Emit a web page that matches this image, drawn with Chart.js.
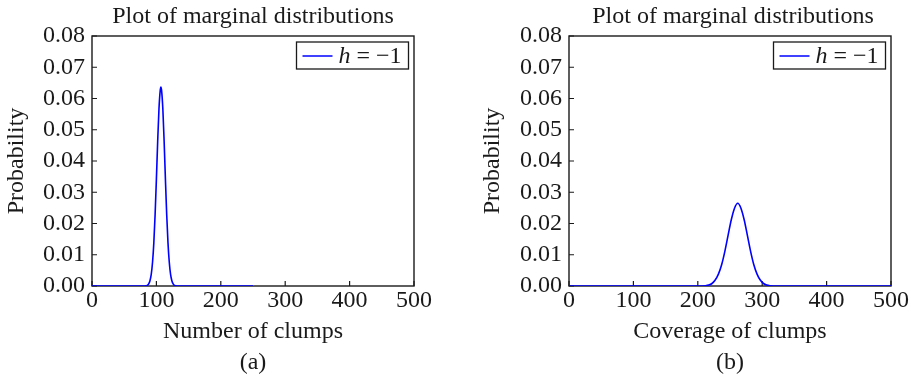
<!DOCTYPE html>
<html>
<head>
<meta charset="utf-8">
<script src="https://cdn.jsdelivr.net/npm/chart.js@4.4.0/dist/chart.umd.min.js"></script>
<style>
  html, body { margin:0; padding:0; background:#fff; }
  #wrap { position:relative; width:912px; height:377px; }
  canvas { position:absolute; top:0; }
  #chartA { left:0; }
  #chartB { left:456px; }
</style>
</head>
<body>
<div id="wrap">
  <canvas id="chartA" width="456" height="377"></canvas>
  <canvas id="chartB" width="456" height="377"></canvas>
</div>
<script>
// === MARGINAL DISTRIBUTIONS (h = -1) === //

// ---- (a) number of clumps ---- //
const clumpX = [0, 82, 86, 88, 90, 92, 94, 96, 98, 100, 102, 104, 106, 107, 108, 110, 112, 114, 116, 118, 120, 122, 124, 126, 128, 132, 250];
const clumpP = [0, 0, 0.0002, 0.0007, 0.0017, 0.0037, 0.0076, 0.0138, 0.0229, 0.0342, 0.0463, 0.0567, 0.0627, 0.0637, 0.0627, 0.0567, 0.0463, 0.0342, 0.0229, 0.0138, 0.0076, 0.0037, 0.0017, 0.0007, 0.0002, 0, 0];

// ---- (b) coverage of clumps ---- //
const coverX = [0, 200, 212, 217, 222, 227, 232, 237, 242, 247, 252, 257, 262, 267, 272, 277, 282, 287, 292, 297, 302, 307, 312, 325, 500];
const coverP = [0, 0, 0.0001, 0.0003, 0.0008, 0.0019, 0.0038, 0.0068, 0.0111, 0.0162, 0.0212, 0.0249, 0.0265, 0.0249, 0.0212, 0.0162, 0.0111, 0.0068, 0.0038, 0.0019, 0.0008, 0.0003, 0.0001, 0, 0];

const panelTitle = "Plot of marginal distributions";
const seriesLabel = "h = \u22121";
const yTitle = "Probability";

const FONT = "'Liberation Serif', 'Times New Roman', serif";
const INK = "#1a1a1a";
const BLUE = "#0000ff";

// ---- frame, inward ticks, title, caption, legend ---- //
const paperPlugin = {
  id: "paper",
  beforeDatasetsDraw(chart) {
    const { ctx, chartArea: a, scales } = chart;
    ctx.save();
    ctx.strokeStyle = INK;
    ctx.lineWidth = 1.4;
    ctx.strokeRect(a.left, a.top, a.right - a.left, a.bottom - a.top);
    ctx.lineWidth = 1.2;
    ctx.beginPath();
    scales.x.ticks.forEach(t => {
      const px = scales.x.getPixelForValue(t.value);
      ctx.moveTo(px, a.bottom); ctx.lineTo(px, a.bottom - 5);
    });
    scales.y.ticks.forEach(t => {
      const py = scales.y.getPixelForValue(t.value);
      ctx.moveTo(a.left, py); ctx.lineTo(a.left + 5, py);
    });
    ctx.stroke();
    ctx.restore();
  },
  afterDraw(chart, args, opts) {
    const { ctx, chartArea: a } = chart;
    const cx = (a.left + a.right) / 2;
    ctx.save();
    ctx.fillStyle = INK;
    ctx.font = "24px " + FONT;
    ctx.textAlign = "center";
    ctx.textBaseline = "alphabetic";
    ctx.fillText(opts.title, cx + (opts.titleShift || 0), 23);
    ctx.fillText(opts.caption, cx, 369);

    // legend box, top right inside the axes
    const ds = chart.data.datasets[0];
    const w = 112, h = 27;
    const bx = a.right - 5.5 - w, by = a.top + 6;
    ctx.fillStyle = "#fff";
    ctx.fillRect(bx, by, w, h);
    ctx.strokeStyle = INK;
    ctx.lineWidth = 1.3;
    ctx.strokeRect(bx, by, w, h);
    ctx.strokeStyle = ds.borderColor;
    ctx.lineWidth = 1.5;
    ctx.beginPath();
    ctx.moveTo(bx + 6, by + 14); ctx.lineTo(bx + 36, by + 14);
    ctx.stroke();
    const parts = ds.label.split(" ");
    ctx.fillStyle = INK;
    ctx.textAlign = "left";
    ctx.font = "italic 24px " + FONT;
    let tx = bx + 42;
    ctx.fillText(parts[0], tx, by + 21);
    tx += ctx.measureText(parts[0]).width;
    ctx.font = "24px " + FONT;
    ctx.fillText(" " + parts.slice(1).join(" "), tx, by + 21);
    ctx.restore();
  }
};

function makePanel(id, xs, ys, xTitle, caption, yWidth, yTitlePad, padRight, titleShift) {
  const points = xs.map((x, i) => ({ x, y: ys[i] }));
  const tickFont = { family: FONT, size: 24 };
  return new Chart(document.getElementById(id), {
    type: "line",
    data: {
      datasets: [{
        label: seriesLabel,
        data: points,
        borderColor: BLUE,
        borderWidth: 1.6,
        pointRadius: 0,
        fill: false,
        cubicInterpolationMode: "monotone"
      }]
    },
    options: {
      responsive: false,
      animation: false,
      devicePixelRatio: 1,
      layout: { padding: { top: 36, right: padRight, left: 0, bottom: 0 } },
      plugins: {
        legend: { display: false },
        title: { display: false },
        tooltip: { enabled: false },
        paper: { title: panelTitle, caption, titleShift }
      },
      scales: {
        x: {
          type: "linear", min: 0, max: 500,
          ticks: { stepSize: 100, padding: 0, maxRotation: 0, autoSkip: false, font: tickFont, color: INK },
          grid: { display: false, drawTicks: false },
          border: { display: false },
          title: { display: true, text: xTitle, font: tickFont, color: INK, padding: { top: 0, bottom: 30.6 } },
          afterFit: s => { s.height = 91; }
        },
        y: {
          type: "linear", min: 0, max: 0.08,
          ticks: { stepSize: 0.01, padding: 7, autoSkip: false, font: tickFont, color: INK, callback: v => v.toFixed(2) },
          grid: { display: false, drawTicks: false },
          border: { display: false },
          title: { display: true, text: yTitle, font: tickFont, color: INK, padding: { top: yTitlePad, bottom: 0 } },
          afterFit: s => { s.width = yWidth; }
        }
      }
    },
    plugins: [paperPlugin]
  });
}

makePanel("chartA", clumpX, clumpP, "Number of clumps", "(a)", 92, 2.5, 42, 0);
makePanel("chartB", coverX, coverP, "Coverage of clumps", "(b)", 113, 22.5, 21, 3);
</script>
</body>
</html>
